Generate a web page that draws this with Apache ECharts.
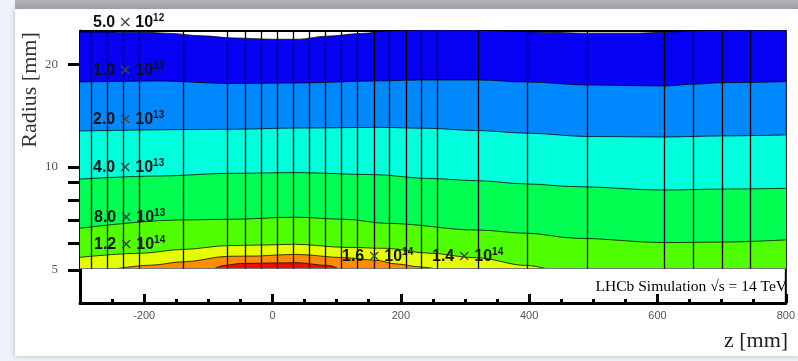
<!DOCTYPE html>
<html>
<head>
<meta charset="utf-8">
<script src="https://cdn.jsdelivr.net/npm/echarts@6/dist/echarts.min.js"></script>
<style>
html, body { margin: 0; padding: 0; background: #eef0fa; }
#chart { width: 798px; height: 361px; }
</style>
</head>
<body>
<div id="chart"></div>
<script>
// axes
var zRange = [-300, 800];          // z [mm]
var rRange = [4, 25];              // radius [mm], log
var xMajorTicks = [-200, 0, 200, 400, 600, 800];
var xMinorTicks = [-250, -150, -100, -50, 50, 100, 150, 250, 300, 350, 450, 500, 550, 650, 700, 750];
var yTicks = [5, 6, 7, 8, 9, 10, 20];
var yLabels = [5, 10, 20];
var pipeRadius = 5.05;

// module positions (vertical lines)
var stations = [-282, -257, -232, -208, -139, -70, -43, -17, 7, 32, 57, 82, 107, 132, 158, 182,
                208, 232, 256, 320, 397, 491, 610, 655, 701, 745];

// contour lines [z, r]
var cont5e12 = [[-300, 24.83], [-200, 24.8], [-160, 24.6], [-110, 24.2], [-60, 23.85], [0, 23.65], [40, 23.65],
                [85, 24.15], [140, 24.6], [180, 25.0], [230, 25.25], [300, 25.3], [350, 25.0],
                [440, 24.75], [480, 24.64], [570, 24.64], [610, 24.78], [660, 25.05], [720, 25.2], [800, 25.2]];
var cont1e13 = [[-300, 17.73], [-176, 17.85], [-68, 17.55], [40, 17.61], [159, 17.85], [230, 17.97],
                [319, 17.97], [396, 17.73], [492, 17.37], [610, 17.26], [654, 17.46], [701, 17.65], [800, 17.77]];
var cont2e13 = [[-300, 12.75], [-68, 12.89], [40, 13.00], [164, 13.06], [241, 12.98], [319, 12.78],
                [396, 12.56], [492, 12.28], [610, 12.24], [701, 12.33], [800, 12.41]];
var cont4e13 = [[-300, 9.22], [-176, 9.41], [-68, 9.58], [36, 9.63], [159, 9.50], [241, 9.26],
                [319, 9.12], [396, 8.92], [473, 8.76], [610, 8.56], [701, 8.62], [800, 8.66]];
var cont8e13 = [[-300, 6.62], [-141, 7.00], [-68, 7.03], [36, 7.13], [113, 7.03], [179, 6.84],
                [319, 6.54], [396, 6.40], [473, 6.19], [610, 6.01], [701, 6.03], [800, 6.12]];
var cont1p2e14 = [[-300, 5.44], [-207, 5.59], [-139, 5.74], [-68, 5.89], [-22, 5.91], [36, 5.94],
                  [113, 5.82], [179, 5.78], [241, 5.60], [319, 5.42], [396, 5.15], [425, 5.05]];
var cont1p4e14 = [[-240, 5.05], [-190, 5.16], [-139, 5.28], [-68, 5.48], [-22, 5.49], [9, 5.53],
                  [36, 5.55], [113, 5.43], [159, 5.34], [195, 5.2], [230, 5.1], [250, 5.05]];
var cont1p6e14 = [[-90, 5.05], [-76, 5.15], [-50, 5.22], [9, 5.24], [36, 5.25], [87, 5.15], [102, 5.05]];

var contours = [cont5e12, cont1e13, cont2e13, cont4e13, cont8e13, cont1p2e14, cont1p4e14, cont1p6e14];
var bandColors = ['#0600f5', '#0088ff', '#00ffdd', '#00ff50', '#50ff00', '#e6ff00', '#ff8c00', '#f01000'];

// contour labels: mantissa, exponent
var labelMant = ['5.0', '1.0', '2.0', '4.0', '8.0', '1.2', '1.6', '1.4'];
var labelExp = ['12', '13', '13', '13', '13', '14', '14', '14'];
var labelPos = [[93, 23], [93, 71], [93, 120], [93, 168], [94, 218], [94, 245], [342, 257], [432, 257]];

var chart = echarts.init(document.getElementById('chart'));

var series = [];
for (var i = 0; i < contours.length; i++) {
    series.push({
        type: 'line',
        data: contours[i],
        symbol: 'none',
        smooth: 0.35,
        smoothMonotone: 'x',
        silent: true,
        lineStyle: { color: 'rgba(0,0,0,0.75)', width: 1 },
        areaStyle: { color: bandColors[i], opacity: 1, origin: pipeRadius }
    });
}
// beam pipe edge
series.push({
    type: 'lines',
    coordinateSystem: 'cartesian2d',
    silent: true,
    z: 4,
    lineStyle: { color: '#777', width: 1, opacity: 1 },
    data: [{ coords: [[zRange[0], pipeRadius], [zRange[1], pipeRadius]] }]
});
// modules
series.push({
    type: 'lines',
    coordinateSystem: 'cartesian2d',
    silent: true,
    z: 5,
    lineStyle: { color: '#000', width: 1.3, opacity: 1 },
    data: stations.map(function (z) {
        return { coords: [[z, pipeRadius], [z, rRange[1]]] };
    })
});

var graphic = [
    { type: 'rect', z: -10, shape: { x: 15, y: 9, width: 783, height: 347 },
      style: { fill: '#fff', shadowBlur: 5, shadowColor: 'rgba(0,0,0,0.25)' } },
    { type: 'rect', z: -9, shape: { x: 15, y: 0, width: 783, height: 9 },
      style: { fill: new echarts.graphic.LinearGradient(0, 0, 0, 1, [
          { offset: 0, color: '#b4b4ba' }, { offset: 1, color: '#9c9ca4' }]) } },
    { type: 'text', z: 100, x: 30, y: 90, rotation: Math.PI / 2,
      style: { text: 'Radius [mm]', fontFamily: 'Liberation Serif', fontSize: 22, fill: '#333',
               align: 'center', verticalAlign: 'middle' } },
    { type: 'text', z: 100, x: 756, y: 341,
      style: { text: 'z [mm]', fontFamily: 'Liberation Serif', fontSize: 22, fill: '#222',
               align: 'center', verticalAlign: 'middle' } },
    { type: 'text', z: 100, x: 787, y: 287,
      style: { text: 'LHCb Simulation \u221As = 14 TeV', fontFamily: 'Liberation Serif', fontSize: 15.5, fill: '#000',
               align: 'right', verticalAlign: 'middle' } }
];
for (var k = 0; k < labelMant.length; k++) {
    graphic.push({
        type: 'text', z: 100, x: labelPos[k][0], y: labelPos[k][1],
        style: {
            text: '{b|' + labelMant[k] + '} {x|\u00d7} {b|10}{e|' + labelExp[k] + '}',
            align: 'left', verticalAlign: 'middle',
            rich: {
                b: { fontFamily: 'Liberation Sans', fontWeight: 'bold', fontSize: 16, lineHeight: 20, fill: '#111' },
                x: { fontFamily: 'DejaVu Sans', fontSize: 16, lineHeight: 20, fill: '#444' },
                e: { fontFamily: 'Liberation Sans', fontWeight: 'bold', fontSize: 10, lineHeight: 10,
                     verticalAlign: 'top', fill: '#111' }
            }
        }
    });
}

var option = {
    backgroundColor: '#eef0fa',
    animation: false,
    grid: { left: 80, right: 7, top: 31, bottom: 58, show: true, backgroundColor: '#fff',
            borderColor: '#000', borderWidth: 2 },
    xAxis: [
        {
            type: 'value', position: 'bottom', min: zRange[0], max: zRange[1],
            axisLine: { onZero: false, lineStyle: { color: '#000', width: 3 } },
            axisTick: { inside: true, length: 9, customValues: xMajorTicks, lineStyle: { color: '#000', width: 3 } },
            axisLabel: { customValues: xMajorTicks, color: '#555', fontFamily: 'Liberation Sans', fontSize: 11, margin: 7 },
            splitLine: { show: false }
        },
        {
            type: 'value', position: 'bottom', min: zRange[0], max: zRange[1],
            axisLine: { show: false, onZero: false },
            axisTick: { inside: true, length: 4, customValues: xMinorTicks, lineStyle: { color: '#000', width: 3 } },
            axisLabel: { show: false },
            splitLine: { show: false }
        }
    ],
    yAxis: [
        {
            type: 'log', logBase: 10, position: 'left', min: rRange[0], max: rRange[1],
            axisLine: { show: true, onZero: false, lineStyle: { color: '#000', width: 3 } },
            axisTick: { show: false },
            axisLabel: { show: false },
            splitLine: { show: false }
        },
        {
            // tick positions on log10 scale
            type: 'value', position: 'left', min: Math.log10(rRange[0]), max: Math.log10(rRange[1]),
            axisLine: { show: false, onZero: false },
            axisTick: { show: true, length: 12, customValues: yTicks.map(Math.log10),
                        lineStyle: { color: '#000', width: 3 } },
            axisLabel: { customValues: yLabels.map(Math.log10), margin: 22, color: '#555',
                         fontFamily: 'Liberation Serif', fontSize: 13,
                         formatter: function (v) { return String(Math.round(Math.pow(10, v))); } },
            splitLine: { show: false }
        }
    ],
    series: series,
    graphic: graphic
};

chart.setOption(option);
</script>
</body>
</html>
